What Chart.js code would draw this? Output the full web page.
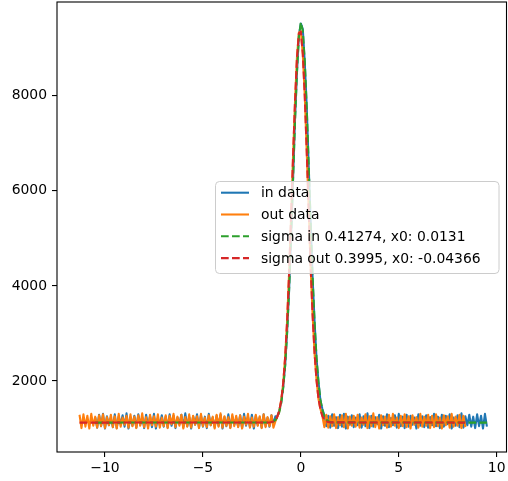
<!DOCTYPE html>
<html><head><meta charset="utf-8">
<script src="https://cdn.jsdelivr.net/npm/chart.js@4/dist/chart.umd.min.js"></script>
<style>html,body{margin:0;padding:0;background:#fff;overflow:hidden}#wrap{width:508px;height:481px;position:relative}</style>
</head><body><div id="wrap"><canvas id="c" width="508" height="481"></canvas></div>
<script>
// ---- data ----
const xTicks = [-10, -5, 0, 5, 10];
const yTicks = [2000, 4000, 6000, 8000];
const seriesLabels = ["in data", "out data", "sigma in 0.41274, x0: 0.0131", "sigma out 0.3995, x0: -0.04366"];

// sampling grids (start and step of the x samples)
const inStart = -10.5, outStart = -11.3, sampleStep = 0.1;

// "in data" values, x = -10.5 .. -1.3
const inLeft = [
1240,1020,1290,1050,1310,1000,1260,1070,1220,1030,
1300,1010,1250,1090,1280,1040,1320,1000,1230,1060,
1270,1020,1300,1080,1240,1010,1290,1050,1260,1030,
1310,1000,1220,1070,1280,1040,1250,1020,1300,1060,
1270,1010,1230,1090,1290,1030,1320,1050,1240,1000,
1260,1080,1300,1020,1280,1040,1250,1010,1310,1070,
1230,1030,1270,1060,1290,1000,1240,1050,1300,1020,
1260,1080,1220,1040,1280,1010,1310,1060,1250,1030,
1290,1000,1270,1070,1240,1020,1300,1050,1230,1040,
1280,1090,1260];
// x = -1.2 .. 1.2
const inPeak = [1260,1380,1560,1880,2330,3050,3900,5050,6200,7480,8460,9280,9520,9400,8700,7780,6520,5360,4170,3260,2470,1990,1590,1410,1280];
// x = 1.3 .. 9.5
const inRight = [
1050,1270,1020,1300,1060,1240,1010,1290,1040,1310,
1000,1250,1080,1280,1030,1230,1070,1300,1020,1260,
1050,1320,1010,1270,1040,1240,1090,1290,1000,1260,
1060,1300,1030,1220,1070,1280,1020,1310,1050,1250,
1010,1290,1040,1270,1080,1230,1000,1300,1060,1260,
1030,1280,1020,1240,1070,1310,1050,1250,1010,1290,
1040,1270,1090,1300,1000,1230,1060,1280,1030,1320,
1020,1260,1070,1290,1040,1250,1010,1300,1050,1270,
1000,1310,1040];

// "out data" values, x = -11.3 .. -1.3
const outLeft = [
1290,1010,1300,1040,1270,1000,1310,1060,1250,1020,
1280,1050,1300,1010,1240,1070,1290,1030,1260,1000,
1310,1040,1230,1080,1270,1020,1300,1050,1250,1010,
1280,1060,1320,1030,1240,1000,1290,1070,1260,1040,
1300,1020,1230,1050,1280,1010,1270,1090,1310,1030,
1250,1060,1290,1000,1240,1040,1300,1020,1270,1080,
1260,1010,1310,1050,1230,1030,1280,1070,1250,1000,
1290,1040,1320,1020,1260,1060,1240,1010,1300,1050,
1270,1030,1280,1000,1250,1080,1310,1020,1230,1040,
1290,1060,1260,1010,1300,1030,1240,1050,1280,1020,
1150];
// x = -1.2 .. 1.2
const outPeak = [1250,1370,1610,1950,2520,3260,4280,5420,6700,7840,8800,9330,9360,8870,8010,6830,5600,4390,3400,2580,2030,1620,1410,1260,1030];
// x = 1.3 .. 8.4
const outRight = [
1290,1020,1260,1050,1300,1010,1240,1070,1280,1030,
1310,1000,1250,1060,1270,1040,1290,1020,1230,1080,
1300,1010,1260,1050,1320,1030,1240,1000,1280,1070,
1250,1020,1290,1040,1310,1060,1230,1010,1270,1050,
1300,1030,1260,1000,1280,1080,1240,1020,1310,1040,
1250,1060,1290,1010,1270,1030,1300,1050,1230,1000,
1280,1070,1260,1020,1310,1040,1250,1060,1290,1010,
1270,1030];

// fitted curves
const fitInX  = [-10.5,-1.6,-1.5,-1.4,-1.3,-1.2,-1.1,-1.0,-0.9,-0.8,-0.7,-0.6,-0.5,-0.4,-0.3,-0.2,-0.1,0.0,0.1,0.2,0.3,0.4,0.5,0.6,0.7,0.8,0.9,1.0,1.1,1.2,1.3,1.4,1.5,1.6,9.5];
const fitInY  = [1125,1129,1135,1149,1178,1237,1346,1539,1854,2334,3018,3919,5013,6227,7440,8494,9235,9541,9361,8725,7738,6552,5324,4189,3233,2492,1962,1608,1388,1260,1190,1155,1138,1130,1125];
const fitOutX = [-11.3,-1.6,-1.5,-1.4,-1.3,-1.2,-1.1,-1.0,-0.9,-0.8,-0.7,-0.6,-0.5,-0.4,-0.3,-0.2,-0.1,0.0,0.1,0.2,0.3,0.4,0.5,0.6,0.7,0.8,0.9,1.0,1.1,1.2,1.3,1.4,1.5,8.4];
const fitOutY = [1125,1129,1136,1151,1184,1250,1376,1596,1956,2503,3270,4261,5432,6681,7856,8786,9313,9346,8877,7992,6837,5589,4402,3384,2588,2015,1633,1398,1262,1190,1154,1137,1130,1125];

// ---- build ----
function grid(start, n){ const a=[]; for(let i=0;i<n;i++) a.push(Math.round((start+i*sampleStep)*10)/10); return a; }
function pts(xs, ys){ return ys.map((y,i)=>({x:xs[i], y:y})); }
const inY = inLeft.concat(inPeak, inRight);
const outY = outLeft.concat(outPeak, outRight);
const inX = grid(inStart, inY.length);
const outX = grid(outStart, outY.length);

const colors = ['#1f77b4', '#ff7f0e', '#2ca02c', '#d62728'];
const dash = [7.7, 3.3];
const FONT = '"DejaVu Sans", sans-serif';

const frameAndLegend = {
  id: 'frameAndLegend',
  afterDatasetsDraw(chart){
    const ctx = chart.ctx;
    ctx.save();
    const bx=215.5, by=181.5, bw=283.5, bh=92, r=4;
    ctx.beginPath();
    ctx.roundRect(bx, by, bw, bh, r);
    ctx.fillStyle = 'rgba(255,255,255,0.8)';
    ctx.fill();
    ctx.strokeStyle = '#cccccc';
    ctx.lineWidth = 1;
    ctx.stroke();
    const ds = chart.data.datasets;
    ctx.font = '13.9px ' + FONT;
    ctx.textBaseline = 'middle';
    ctx.textAlign = 'left';
    for (let i=0;i<seriesLabels.length;i++){
      const y = 192.7 + i*21.8;
      ctx.beginPath();
      ctx.setLineDash(i>=2 ? dash : []);
      ctx.strokeStyle = colors[i];
      ctx.lineWidth = 2.08;
      ctx.moveTo(221, y); ctx.lineTo(249, y);
      ctx.stroke();
      ctx.setLineDash([]);
      ctx.fillStyle = '#000';
      ctx.fillText(ds[i].label, 261, y+1);
    }
    ctx.restore();
  },
  afterDraw(chart){
    const ctx = chart.ctx, a = chart.chartArea;
    ctx.save();
    ctx.strokeStyle = '#000';
    ctx.lineWidth = 1.1;
    ctx.strokeRect(a.left, a.top, a.right-a.left, a.bottom-a.top);
    ctx.restore();
  }
};

const fmtMinus = v => v < 0 ? '\u2212' + Math.abs(v) : String(v);

new Chart(document.getElementById('c'), {
  type: 'line',
  data: {
    datasets: [
      {label: seriesLabels[0], data: pts(inX, inY), borderColor: colors[0], borderWidth: 2.08, order: 3},
      {label: seriesLabels[1], data: pts(outX, outY), borderColor: colors[1], borderWidth: 2.08, order: 2},
      {label: seriesLabels[2], data: pts(fitInX, fitInY), borderColor: colors[2], borderWidth: 2.08, borderDash: dash, order: 1},
      {label: seriesLabels[3], data: pts(fitOutX, fitOutY), borderColor: colors[3], borderWidth: 2.08, borderDash: dash, order: 0}
    ]
  },
  options: {
    responsive: false,
    devicePixelRatio: 1,
    animation: false,
    events: [],
    elements: { point: { radius: 0 }, line: { tension: 0, fill: false, borderJoinStyle: 'round' } },
    layout: { padding: { top: 2, right: 1.5, left: 0, bottom: 0 } },
    plugins: { legend: { display: false }, tooltip: { enabled: false } },
    scales: {
      x: {
        type: 'linear', min: -12.45, max: 10.5,
        afterBuildTicks: s => { s.ticks = xTicks.map(v => ({value: v})); },
        afterFit: s => { s.height = 29; s.paddingLeft = 0; s.paddingRight = 0; },
        border: { display: false },
        grid: { display: true, drawOnChartArea: false, drawTicks: true, tickLength: 5, color: '#000', lineWidth: 1.1 },
        ticks: { color: '#000', font: { family: FONT, size: 13.9 }, padding: 3, maxRotation: 0, callback: v => fmtMinus(v) }
      },
      y: {
        type: 'linear', min: 507, max: 9971,
        afterBuildTicks: s => { s.ticks = yTicks.map(v => ({value: v})); },
        afterFit: s => { s.width = 57; s.paddingTop = 0; s.paddingBottom = 0; },
        border: { display: false },
        grid: { display: true, drawOnChartArea: false, drawTicks: true, tickLength: 5, color: '#000', lineWidth: 1.1 },
        ticks: { color: '#000', font: { family: FONT, size: 13.9 }, padding: 5, callback: v => String(v) }
      }
    }
  },
  plugins: [frameAndLegend]
});
</script>
</body></html>
